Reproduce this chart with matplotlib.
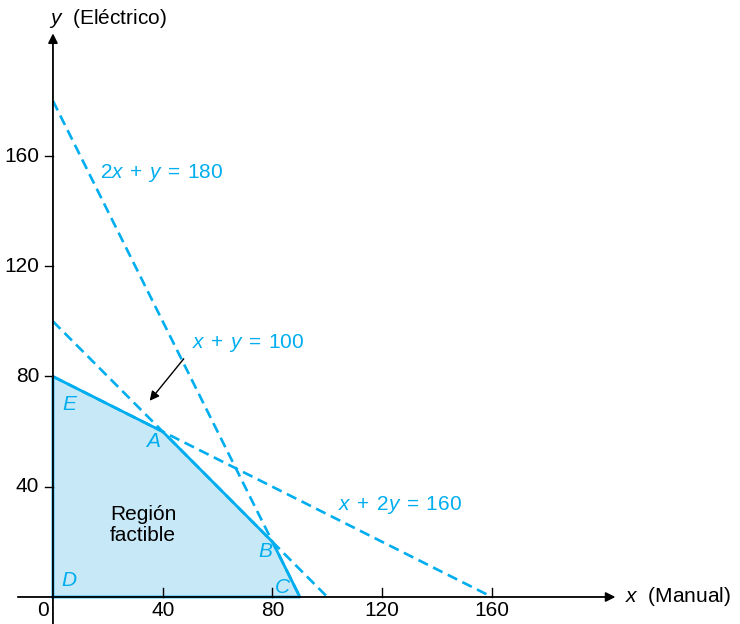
import matplotlib
matplotlib.use('Agg')
from matplotlib import pyplot as plt

plt.rcParams['font.family'] = ['Liberation Sans', 'DejaVu Sans']
plt.rcParams['mathtext.fontset'] = 'custom'
plt.rcParams['mathtext.rm'] = 'Liberation Sans'
plt.rcParams['mathtext.it'] = 'Liberation Sans:italic'

# constraint lines: (x intercept, y intercept, label, label position)
line_x_ends = [90, 100, 160]
line_y_ends = [180, 100, 80]
line_labels = ['2$x$\u200a + \u200a$y$\u200a = \u200a180',
               '$x$\u200a + \u200a$y$\u200a = \u200a100',
               '$x$\u200a + \u200a2$y$\u200a = \u200a160']
label_pos = [(17, 154), (50.5, 92), (104, 33.4)]

# feasible region corners
region_x = [0, 0, 40, 80, 90]
region_y = [0, 80, 60, 20, 0]
corner_names = ['D', 'E', 'A', 'B', 'C']
corner_text = [(3.2, 6), (3.4, 70), (33.8, 56.5), (74.8, 16.5), (81.0, 3.6)]

x_ticks = [40, 80, 120, 160]
y_ticks = [40, 80, 120, 160]

blue = '#00aeef'
fill = '#c6e8f7'
fs = 15

fig = plt.figure(figsize=(7.4, 6.24), dpi=100)
ax = fig.add_axes([0, 0, 1, 1])
ax.set_xlim(-19.3, 250.4)
ax.set_ylim(-9.8, 216.6)
ax.axis('off')

# region
ax.fill(region_x, region_y, color=fill, lw=0)
ax.plot(region_x + [region_x[0]], region_y + [region_y[0]], color=blue, lw=2.0)

# dashed constraint lines
for xe, ye in zip(line_x_ends, line_y_ends):
    ax.plot([0, xe], [ye, 0], color=blue, lw=1.9, dashes=(4, 2.2))
for lab, (tx, ty) in zip(line_labels, label_pos):
    ax.text(tx, ty, lab, color=blue, fontsize=fs, ha='left', va='center')

for name, (tx, ty) in zip(corner_names, corner_text):
    ax.text(tx, ty, name, color=blue, fontsize=fs, style='italic',
            ha='left', va='center')

ax.text(32.8, 26, 'Región\nfactible', fontsize=fs, ha='center', va='center',
        linespacing=1.15)

# arrow to x + y = 100
ax.annotate('', xy=(34.6, 70.4), xytext=(48.3, 87.2),
            arrowprops=dict(arrowstyle='-|>', color='black', lw=1.0,
                            mutation_scale=14))

# axes
ax.annotate('', xy=(205, 0), xytext=(-12.8, 0),
            arrowprops=dict(arrowstyle='-|>', color='black', lw=1.3,
                            mutation_scale=14, shrinkA=0, shrinkB=0))
ax.annotate('', xy=(0, 204.5), xytext=(0, -9.8),
            arrowprops=dict(arrowstyle='-|>', color='black', lw=1.3,
                            mutation_scale=14, shrinkA=0, shrinkB=0))

for t in x_ticks:
    ax.plot([t, t], [0, 3.3], color='black', lw=1.0)
    ax.text(t, -5.0, str(t), fontsize=fs, ha='center', va='center')
for t in y_ticks:
    ax.plot([-3, 0], [t, t], color='black', lw=1.0)
    ax.text(-5.0, t, str(t), fontsize=fs, ha='right', va='center')
ax.text(-3.6, -5.0, '0', fontsize=fs, ha='center', va='center')

ax.text(208.5, 0.2, '$x$  (Manual)', fontsize=fs, ha='left', va='center')
ax.text(-1.5, 210.0, '$y$  (Eléctrico)', fontsize=fs, ha='left', va='center')

fig.savefig('out.png', dpi=100)
